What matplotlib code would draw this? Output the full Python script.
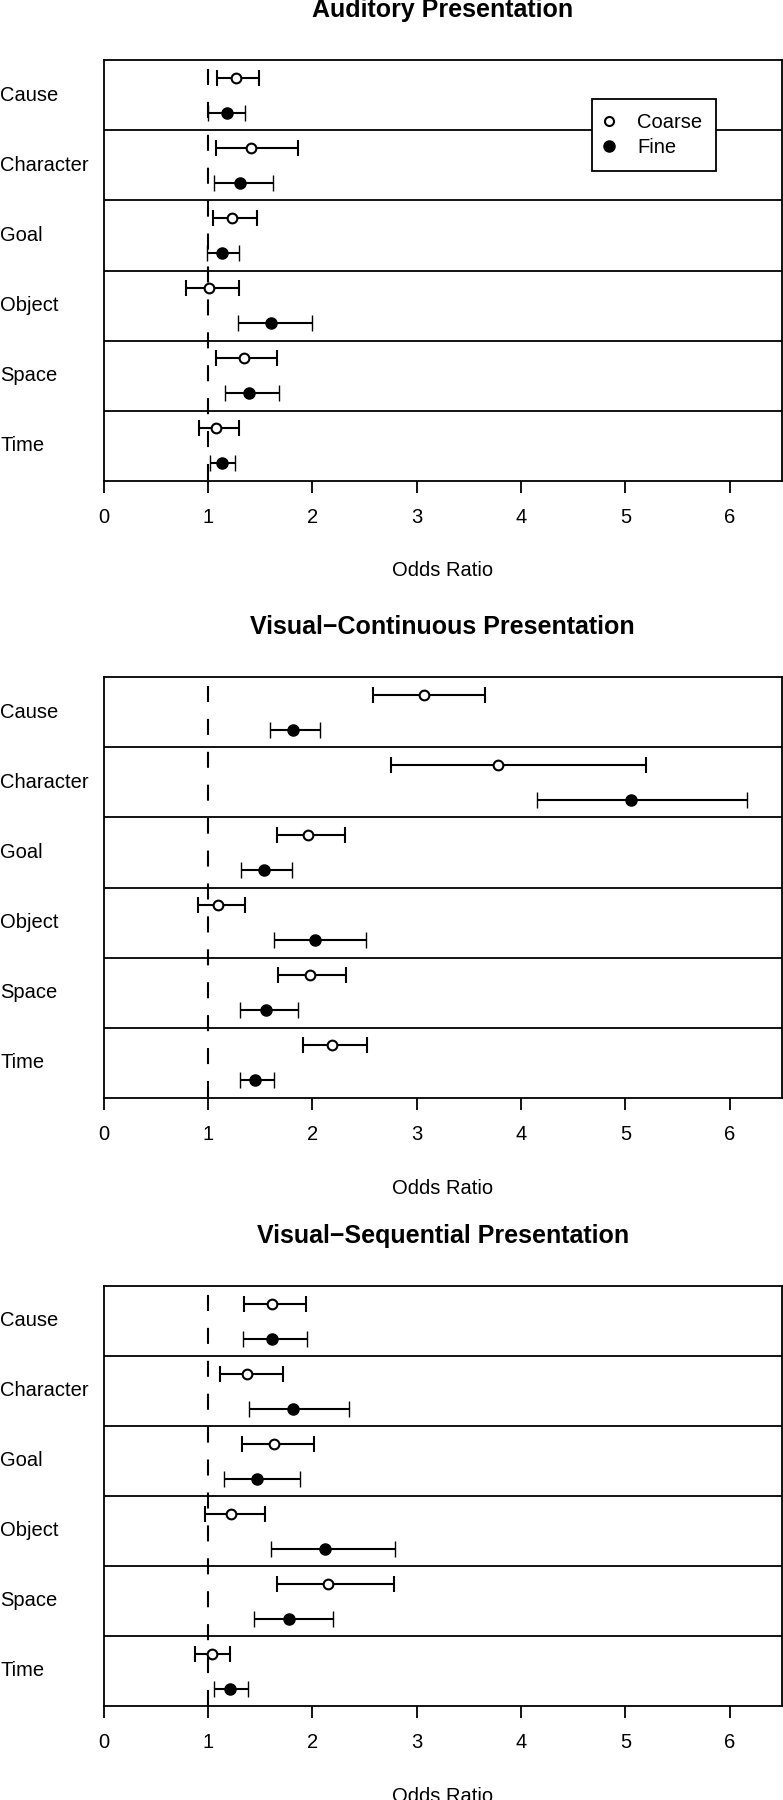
import matplotlib
matplotlib.use("Agg")
import matplotlib.pyplot as plt
import matplotlib.transforms as mtransforms
from matplotlib.lines import Line2D

plt.rcParams['font.family'] = ['Liberation Sans', 'DejaVu Sans']

categories = ["Cause", "Character", "Goal", "Object", "Space", "Time"]
titles = ["Auditory Presentation", "Visual\u2212Continuous Presentation",
          "Visual\u2212Sequential Presentation"]

# odds ratios with lower / upper confidence limits
aud_coarse = [1.27, 1.415, 1.233, 1.013, 1.343, 1.08]
aud_coarse_lo = [1.085, 1.075, 1.05, 0.79, 1.08, 0.913]
aud_coarse_hi = [1.49, 1.86, 1.47, 1.295, 1.66, 1.295]
aud_fine = [1.18, 1.31, 1.133, 1.60, 1.396, 1.138]
aud_fine_lo = [1.00, 1.056, 0.99, 1.286, 1.16, 1.018]
aud_fine_hi = [1.36, 1.62, 1.295, 1.993, 1.68, 1.262]

vc_coarse = [3.07, 3.78, 1.96, 1.10, 1.974, 2.189]
vc_coarse_lo = [2.586, 2.753, 1.659, 0.903, 1.673, 1.907]
vc_coarse_hi = [3.657, 5.20, 2.318, 1.353, 2.323, 2.524]
vc_fine = [1.82, 5.057, 1.539, 2.022, 1.554, 1.453]
vc_fine_lo = [1.597, 4.154, 1.315, 1.63, 1.305, 1.305]
vc_fine_hi = [2.07, 6.16, 1.807, 2.519, 1.864, 1.63]

vs_coarse = [1.612, 1.378, 1.632, 1.225, 2.148, 1.038]
vs_coarse_lo = [1.344, 1.12, 1.325, 0.971, 1.66, 0.88]
vs_coarse_hi = [1.938, 1.718, 2.019, 1.545, 2.78, 1.215]
vs_fine = [1.612, 1.813, 1.474, 2.12, 1.775, 1.21]
vs_fine_lo = [1.335, 1.397, 1.158, 1.608, 1.445, 1.062]
vs_fine_hi = [1.952, 2.354, 1.88, 2.794, 2.196, 1.388]

panels = [
    (aud_coarse, aud_coarse_lo, aud_coarse_hi, aud_fine, aud_fine_lo, aud_fine_hi),
    (vc_coarse, vc_coarse_lo, vc_coarse_hi, vc_fine, vc_fine_lo, vc_fine_hi),
    (vs_coarse, vs_coarse_lo, vs_coarse_hi, vs_fine, vs_fine_lo, vs_fine_hi),
]

W, H = 783, 1800
fig = plt.figure(figsize=(W / 100, H / 100), dpi=100)

# panel tops / bottoms in pixels
tops = [60, 677, 1286]
bottoms = [481, 1098, 1706]
left_px, right_px = 103.5, 782

fs = 14.5
lw_box = 1.3

for k, (c, clo, chi, f, flo, fhi) in enumerate(panels):
    t, b = tops[k], bottoms[k]
    ax = fig.add_axes([left_px / W, 1 - b / H, (right_px - left_px) / W, (b - t) / H])
    ax.set_xlim(0, 6.5)
    ax.set_ylim(6, 0)
    for s in ax.spines.values():
        s.set_linewidth(lw_box)

    ypos = list(range(len(categories)))
    yc = [y + 0.25 for y in ypos]
    yf = [y + 0.75 for y in ypos]

    # band separators
    for y in ypos[1:]:
        ax.axhline(y, color='black', lw=lw_box, zorder=1)

    # reference line at OR = 1
    ax.plot([1, 1], [0, 6], color='black', lw=1.5,
            linestyle=(11.5, (7.7, 8.1)), zorder=1)

    ax.errorbar(c, yc, xerr=[[v - l for v, l in zip(c, clo)], [h - v for v, h in zip(c, chi)]],
                fmt='o', color='black', mfc='white', mec='black', mew=1.5, ms=7,
                elinewidth=1.5, capsize=5.8, capthick=1.5, zorder=3)
    ax.errorbar(f, yf, xerr=[[v - l for v, l in zip(f, flo)], [h - v for v, h in zip(f, fhi)]],
                fmt='o', color='black', mfc='black', mec='black', mew=1.0, ms=8,
                elinewidth=1.5, capsize=5.8, capthick=1.5, zorder=3)

    ax.set_yticks([])
    ax.set_xticks(range(7))
    ax.tick_params(axis='x', length=8.6, width=lw_box, pad=11, labelsize=fs)

    trans = mtransforms.blended_transform_factory(fig.transFigure, ax.transData)
    for y, name in zip(ypos, categories):
        ax.text(0.0005, y + 0.5, name, transform=trans, ha='left', va='center', fontsize=fs)

    ax.text(0.5, 1 + 50 / (b - t), titles[k], transform=ax.transAxes,
            ha='center', va='center', fontsize=18, fontweight='bold')
    ax.text(0.5, -90 / (b - t), "Odds Ratio", transform=ax.transAxes,
            ha='center', va='center', fontsize=fs)

    if k == 0:
        handles = [
            Line2D([], [], marker='o', ls='none', mfc='white', mec='black', mew=1.5, ms=6.5),
            Line2D([], [], marker='o', ls='none', mfc='black', mec='black', ms=8),
        ]
        leg = ax.legend(handles, ["Coarse", "Fine"], loc='upper right',
                        bbox_to_anchor=(0.903, 0.907), borderaxespad=0,
                        fontsize=fs, frameon=True, fancybox=False, framealpha=1,
                        edgecolor='black', borderpad=0.7, handlelength=0.3,
                        handletextpad=1.25, labelspacing=0.3)
        leg.get_frame().set_linewidth(lw_box)
        leg.set_zorder(5)

fig.savefig("out.png", dpi=100)
